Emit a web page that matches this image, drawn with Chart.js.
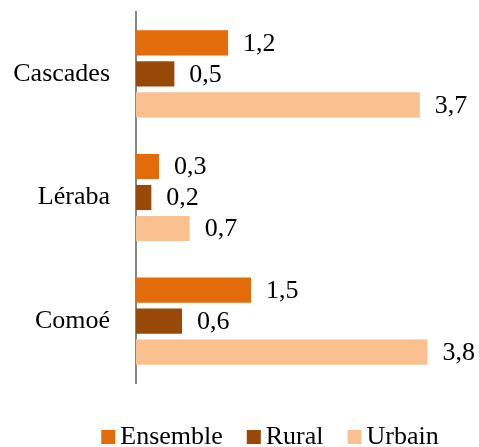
<!DOCTYPE html>
<html>
<head>
<meta charset="utf-8">
<script src="https://cdn.jsdelivr.net/npm/chart.js@4"></script>
<style>
  html, body { margin: 0; padding: 0; background: #fff; }
  #wrap { width: 479px; height: 447px; }
</style>
</head>
<body>
<div id="wrap"><canvas id="chart" width="479" height="447"></canvas></div>
<script>
const regions = ["Cascades", "Léraba", "Comoé"];
const ensemble = [1.2, 0.3, 1.5];
const rural = [0.5, 0.2, 0.6];
const urbain = [3.7, 0.7, 3.8];

const serif = "'Liberation Serif', 'Times New Roman', serif";

// value labels at the end of each bar, french decimal comma
const valueLabels = {
  id: "valueLabels",
  afterDatasetsDraw(chart) {
    const ctx = chart.ctx;
    ctx.save();
    ctx.font = "26px " + serif;
    ctx.fillStyle = "#000";
    ctx.textBaseline = "middle";
    ctx.textAlign = "left";
    chart.data.datasets.forEach((ds, i) => {
      chart.getDatasetMeta(i).data.forEach((bar, j) => {
        const txt = ds.data[j].toFixed(1).replace(".", ",");
        ctx.fillText(txt, bar.x + 15, bar.y + 1);
      });
    });
    ctx.restore();
  },
};

// legend drawn by hand: small square, tight gap, text
const bottomLegend = {
  id: "bottomLegend",
  afterDraw(chart) {
    const ctx = chart.ctx;
    const box = 14, gap = 5, spacing = 24;
    ctx.save();
    ctx.font = "26px " + serif;
    ctx.textBaseline = "middle";
    ctx.textAlign = "left";
    const items = chart.data.datasets.map((ds) => ({
      label: ds.label,
      color: ds.backgroundColor,
      w: ctx.measureText(ds.label).width,
    }));
    let total = items.reduce((s, it) => s + box + gap + it.w, 0) + spacing * (items.length - 1);
    let x = 270 - total / 2;
    const y = 437;
    items.forEach((it) => {
      ctx.fillStyle = it.color;
      ctx.fillRect(x, y - box / 2, box, box);
      ctx.fillStyle = "#000";
      ctx.fillText(it.label, x + box + gap, y);
      x += box + gap + it.w + spacing;
    });
    ctx.restore();
  },
};

new Chart(document.getElementById("chart"), {
  type: "bar",
  data: {
    labels: regions,
    datasets: [
      { label: "Ensemble", data: ensemble, backgroundColor: "#E36C0A" },
      { label: "Rural", data: rural, backgroundColor: "#984807" },
      { label: "Urbain", data: urbain, backgroundColor: "#FAC090" },
    ],
  },
  options: {
    indexAxis: "y",
    responsive: false,
    animation: false,
    categoryPercentage: 0.752,
    barPercentage: 0.81,
    layout: { padding: { top: 12, right: 7, bottom: 64, left: 0 } },
    plugins: {
      tooltip: { enabled: false },
      legend: { display: false },
    },
    scales: {
      x: { display: false, min: 0, max: 4.38 },
      y: {
        grid: { display: false, drawTicks: false },
        border: { color: "#888", width: 2 },
        ticks: {
          font: { family: serif, size: 26 },
          color: "#000",
          padding: 26,
        },
        afterFit(scale) {
          scale.width = 136;
          scale.paddingTop = 0;
          scale.paddingBottom = 0;
        },
      },
    },
  },
  plugins: [valueLabels, bottomLegend],
});
</script>
</body>
</html>
